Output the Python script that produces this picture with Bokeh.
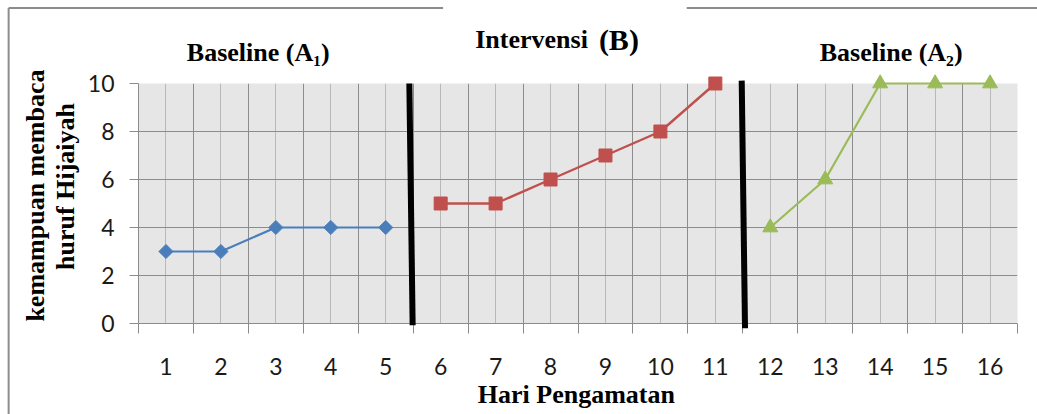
import numpy as np
from bokeh.plotting import figure
from bokeh.models import Range1d, FixedTicker
from bokeh.core.properties import value
from bokeh.embed import file_html
from bokeh.resources import INLINE

# ---- data ----
days_a1 = [1, 2, 3, 4, 5]
vals_a1 = [3, 3, 4, 4, 4]
days_b = [6, 7, 8, 9, 10, 11]
vals_b = [5, 5, 6, 7, 8, 10]
days_a2 = [12, 13, 14, 15, 16]
vals_a2 = [4, 6, 10, 10, 10]
all_days = list(range(1, 17))
day_labels = [str(d) for d in all_days]
y_ticks = [0, 2, 4, 6, 8, 10]
phase_titles = ["Baseline (A\u2081)", "Intervensi", "(B)", "Baseline (A\u2082)"]
x_title = "Hari Pengamatan"
y_title = ["kemampuan membaca", "huruf Hijaiyah"]
# phase separator lines (slightly tilted in the source)
sep_x_top = [5.43, 11.48]
sep_y_top = [10.0, 10.12]
sep_x_bot = [5.49, 11.54]
sep_y_bot = [-0.07, -0.2]

boundaries = [d - 0.5 for d in all_days] + [all_days[-1] + 0.5]

GRID_DARK = "#8c8c8c"
GRID_LIGHT = "#b9b9b9"
SERIF = "Liberation Serif"

p = figure(width=1037, height=414, output_backend="svg", toolbar_location=None,
           x_range=Range1d(0.5, 16.5), y_range=Range1d(0, 10),
           min_border_left=138, min_border_right=20, min_border_top=83, min_border_bottom=91)
p.outline_line_color = None
p.background_fill_color = "#e6e6e6"
p.border_fill_color = "white"

# x axis
xt = FixedTicker(ticks=all_days, minor_ticks=boundaries)
p.xaxis.ticker = xt
p.xaxis.major_label_overrides = {d: l for d, l in zip(all_days, day_labels)}
p.xaxis.major_tick_out = 0
p.xaxis.major_tick_in = 0
p.xaxis.minor_tick_out = 10
p.xaxis.minor_tick_in = 0
p.xaxis.minor_tick_line_color = GRID_DARK
p.xaxis.axis_line_color = GRID_DARK
p.xaxis.major_label_text_font = "Lato"
p.xaxis.major_label_text_font_size = "23px"
p.xaxis.major_label_text_color = "#1a1a1a"
p.xaxis.major_label_standoff = 24

# y axis
p.yaxis.ticker = FixedTicker(ticks=y_ticks, minor_ticks=[])
p.yaxis.major_tick_out = 9
p.yaxis.major_tick_in = 0
p.yaxis.major_tick_line_color = GRID_DARK
p.yaxis.axis_line_color = GRID_DARK
p.yaxis.major_label_text_font = "Lato"
p.yaxis.major_label_text_font_size = "23px"
p.yaxis.major_label_text_color = "#1a1a1a"
p.yaxis.major_label_standoff = 15

# grids
p.xgrid.ticker = xt
p.xgrid.grid_line_color = GRID_LIGHT
p.xgrid.minor_grid_line_color = GRID_DARK
p.ygrid.ticker = FixedTicker(ticks=y_ticks, minor_ticks=[])
p.ygrid.grid_line_color = GRID_DARK

# series
blue, red, green = "#4a7ebb", "#c0504d", "#9bbb59"
r = p.line(days_a1, vals_a1, line_color=blue, line_width=2.2); r.level = "overlay"
r = p.scatter(days_a1, vals_a1, marker="square", angle=np.pi / 4, size=10,
              fill_color=blue, line_color=blue); r.level = "overlay"
r = p.line(days_b, vals_b, line_color=red, line_width=2.4); r.level = "overlay"
r = p.scatter(days_b, vals_b, marker="square", size=13, fill_color=red, line_color=red); r.level = "overlay"
r = p.line(days_a2, vals_a2, line_color=green, line_width=2.2); r.level = "overlay"
r = p.scatter(days_a2, vals_a2, marker="triangle", size=15, fill_color=green, line_color=green); r.level = "overlay"

# phase separators
r = p.segment(x0=sep_x_top, y0=sep_y_top, x1=sep_x_bot, y1=sep_y_bot,
              line_color="black", line_width=6); r.level = "overlay"

# outer frame lines (decoration)
r = p.segment(x0=[-1.864, 10.48, -1.864], y0=[13.15, 13.15, 13.15],
              x1=[6.045, 16.9, -1.864], y1=[13.15, 13.15, -3.8],
              line_color="#8c8c8c", line_width=2); r.level = "overlay"

# texts
def lab(x, y, text, size, align="center", baseline="alphabetic", angle=0.0):
    rr = p.text(x=[x], y=[y], text=[text], text_align=align, text_baseline=baseline,
                angle=angle, text_font=value(SERIF), text_font_style="bold",
                text_font_size=value(size), text_color="black")
    rr.level = "overlay"

lab(2.68, 11.3, phase_titles[0], "26px")
lab(8.68, 11.82, phase_titles[1], "26px", align="right")
lab(8.88, 11.82, phase_titles[2], "30px", align="left")
lab(14.2, 11.3, phase_titles[3], "26px")
lab(8.47, -2.95, x_title, "26px")
lab(-1.37, 5.33, y_title[0], "26px", baseline="middle", angle=np.pi / 2)
lab(-0.83, 5.71, y_title[1], "26px", baseline="middle", angle=np.pi / 2)

open("out.html", "w").write(file_html(p, INLINE))
